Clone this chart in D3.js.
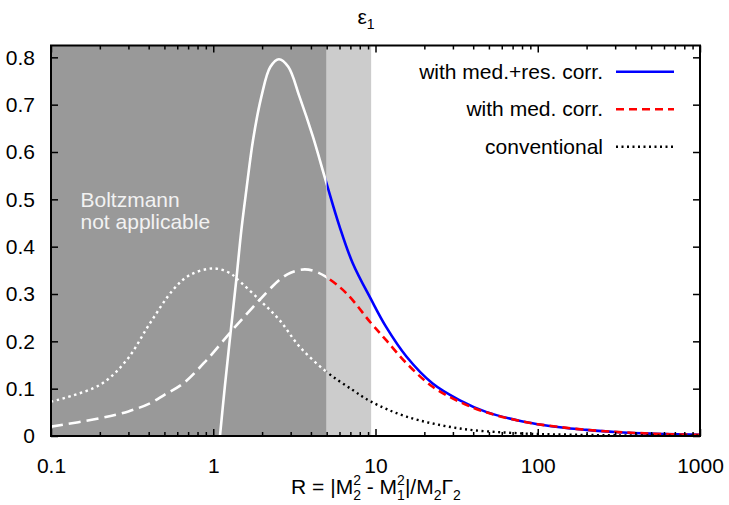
<!DOCTYPE html>
<html lang="en">
<head>
    <meta charset="UTF-8">
    <title>epsilon_1 vs R</title>
    <script src="https://d3js.org/d3.v7.min.js"></script>
    <style>
        body {
            margin: 0;
            background: #fff;
        }
        svg text {
            font-family: "Liberation Sans", Arial, sans-serif;
        }
    </style>
</head>
<body>
    <svg id="chart" width="729" height="505"></svg>
    <script>
        // values
        const medResR = [1.10, 1.18, 1.28, 1.39, 1.49, 1.60, 1.76, 1.98, 2.25, 2.54, 2.90, 3.40, 4.11, 4.97, 6.0, 7.24, 9.41, 11.6, 15.5, 22.5, 32.9, 48, 77, 100, 150, 200, 300, 500, 1000];
        const medResV = [0, 0.106, 0.22, 0.333, 0.435, 0.52, 0.626, 0.717, 0.78, 0.796, 0.78, 0.717, 0.633, 0.536, 0.443, 0.365, 0.288, 0.231, 0.168, 0.111, 0.076, 0.051, 0.032, 0.025, 0.017, 0.013, 0.0085, 0.005, 0.0025];

        const medR = [0.1, 0.2, 0.3, 0.407, 0.5, 0.652, 0.908, 1.26, 1.6, 1.93, 2.56, 3.0, 3.66, 4.3, 4.97, 6.6, 9.41, 11.6, 15.5, 22.5, 32.9, 48, 77, 100, 200, 500, 1000];
        const medV = [0.0197, 0.0374, 0.052, 0.069, 0.087, 0.111, 0.16, 0.217, 0.257, 0.2875, 0.33, 0.345, 0.352, 0.347, 0.336, 0.302, 0.238, 0.203, 0.154, 0.104, 0.0725, 0.050, 0.032, 0.025, 0.013, 0.005, 0.0025];

        const convR = [0.1, 0.2, 0.292, 0.407, 0.566, 0.716, 1.0, 1.27, 1.39, 1.93, 2.56, 3.4, 4.97, 7.24, 9.4, 15.5, 32.9, 77, 150, 300, 1000];
        const convV = [0.0725, 0.108, 0.16, 0.238, 0.309, 0.340, 0.354, 0.344, 0.333, 0.2875, 0.245, 0.189, 0.136, 0.097, 0.0725, 0.041, 0.016, 0.0057, 0.003, 0.0015, 0.0005];

        // R ranges of the grey bands
        const bandFrom = [0.1, 5];
        const bandTo = [5, 9.4];

        const xMajor = [0.1, 1, 10, 100, 1000];
        const xTickLabels = ["0.1", "1", "10", "100", "1000"];
        const yMajor = [0, 0.1, 0.2, 0.3, 0.4, 0.5, 0.6, 0.7, 0.8];
        const yTickLabels = ["0", "0.1", "0.2", "0.3", "0.4", "0.5", "0.6", "0.7", "0.8"];

        const legendLabels = ["with med.+res. corr.", "with med. corr.", "conventional"];

        // layout
        const W = 729, H = 505;
        const margin = {left: 51, right: 29, top: 45.5, bottom: 69};
        const w = W - margin.left - margin.right;
        const h = H - margin.top - margin.bottom;
        const fs = 21;

        const svg = d3.select("#chart");
        const g = svg.append("g").attr("transform", `translate(${margin.left},${margin.top})`);

        const x = d3.scaleLog().domain([0.1, 1000]).range([0, w]);
        const y = d3.scaleLinear().domain([0, 0.825]).range([h, 0]);

        const defs = svg.append("defs");
        defs.append("clipPath").attr("id", "clipAll")
            .append("rect").attr("width", w).attr("height", h);
        defs.append("clipPath").attr("id", "clipWhite")
            .append("rect").attr("width", x(bandTo[0])).attr("height", h);
        defs.append("clipPath").attr("id", "clipColor")
            .append("rect").attr("x", x(bandTo[0])).attr("width", w - x(bandTo[0])).attr("height", h);

        // grey bands
        const bandColors = ["#999999", "#cccccc"];
        g.selectAll("rect.band")
            .data(bandFrom)
            .enter()
            .append("rect")
            .attr("class", "band")
            .attr("x", (d, i) => x(d))
            .attr("width", (d, i) => x(bandTo[i]) - x(d))
            .attr("y", 0)
            .attr("height", h)
            .attr("fill", (d, i) => bandColors[i]);

        g.append("text")
            .attr("x", 29.5).attr("y", 161)
            .attr("fill", "#f2f2f2").attr("font-size", fs)
            .text("Boltzmann");
        g.append("text")
            .attr("x", 29.5).attr("y", 183)
            .attr("fill", "#f2f2f2").attr("font-size", fs)
            .text("not applicable");

        const line = d3.line()
            .x(d => x(d[0]))
            .y(d => y(d[1]))
            .curve(d3.curveCatmullRom.alpha(0.5));

        const series = [
            {r: medResR, v: medResV, color: "#0000ff", dash: null, whiteDash: null, width: 2.6},
            {r: medR, v: medV, color: "#ff0000", dash: "8,5", whiteDash: "12,6", width: 2.6},
            {r: convR, v: convV, color: "#000000", dash: "2,3.5", whiteDash: "2.5,3.5", width: 2.4}
        ];

        const lines = g.append("g").attr("clip-path", "url(#clipAll)");
        series.forEach(s => {
            const pts = s.r.map((r, i) => [r, s.v[i]]);
            lines.append("path")
                .attr("d", line(pts))
                .attr("fill", "none")
                .attr("stroke", "#ffffff")
                .attr("stroke-width", s.width)
                .attr("stroke-dasharray", s.whiteDash)
                .attr("clip-path", "url(#clipWhite)");
            lines.append("path")
                .attr("d", line(pts))
                .attr("fill", "none")
                .attr("stroke", s.color)
                .attr("stroke-width", s.width)
                .attr("stroke-dasharray", s.dash)
                .attr("clip-path", "url(#clipColor)");
        });

        // axes, ticks inward on all four sides
        const xMinor = [];
        xMajor.slice(0, -1).forEach(d => {
            for (let k = 2; k < 10; k++) xMinor.push(d * k);
        });

        function styleAxis(sel) {
            sel.select(".domain").remove();
            sel.selectAll(".tick line").attr("stroke", "#000").attr("stroke-width", 1.5);
            sel.selectAll(".tick text").attr("font-size", fs).attr("fill", "#000")
                .style("font-family", '"Liberation Sans", Arial, sans-serif');
        }

        g.append("g").attr("transform", `translate(0,${h})`)
            .call(d3.axisBottom(x).tickValues(xMajor).tickSize(-7).tickPadding(22)
                .tickFormat((d, i) => xTickLabels[i]))
            .call(styleAxis);
        g.append("g").attr("transform", `translate(0,${h})`)
            .call(d3.axisBottom(x).tickValues(xMinor).tickSize(-4).tickFormat(""))
            .call(styleAxis);
        g.append("g")
            .call(d3.axisTop(x).tickValues(xMajor).tickSize(-7).tickFormat(""))
            .call(styleAxis);
        g.append("g")
            .call(d3.axisTop(x).tickValues(xMinor).tickSize(-4).tickFormat(""))
            .call(styleAxis);
        g.append("g")
            .call(d3.axisLeft(y).tickValues(yMajor).tickSize(-7).tickPadding(16)
                .tickFormat((d, i) => yTickLabels[i]))
            .call(styleAxis);
        g.append("g").attr("transform", `translate(${w},0)`)
            .call(d3.axisRight(y).tickValues(yMajor).tickSize(-7).tickFormat(""))
            .call(styleAxis);

        g.append("rect")
            .attr("width", w).attr("height", h)
            .attr("fill", "none").attr("stroke", "#000").attr("stroke-width", 2);

        // legend
        const legend = g.append("g");
        series.forEach((s, i) => {
            const ly = 26.2 + i * 37.5;
            legend.append("text")
                .attr("x", 552).attr("y", ly + 7)
                .attr("text-anchor", "end").attr("font-size", fs)
                .text(legendLabels[i]);
            legend.append("line")
                .attr("x1", 565).attr("x2", 623)
                .attr("y1", ly).attr("y2", ly)
                .attr("stroke", s.color)
                .attr("stroke-width", s.width)
                .attr("stroke-dasharray", s.dash);
        });

        // title
        const title = svg.append("text")
            .attr("x", 366).attr("y", 24)
            .attr("text-anchor", "middle").attr("font-size", fs);
        title.append("tspan").text("ε");
        title.append("tspan").attr("font-size", 14).attr("dy", 5).text("1");

        // x axis label with stacked super/subscripts
        const xl = svg.append("text")
            .attr("x", 376).attr("y", 494)
            .attr("text-anchor", "middle").attr("font-size", fs);
        const small = 14;
        const supSub = (sup, sub) => {
            xl.append("tspan").attr("font-size", small).attr("dy", -9).text(sup);
            xl.append("tspan").attr("font-size", small).attr("dx", -7.8).attr("dy", 15).text(sub);
        };
        xl.append("tspan").text("R = |M");
        supSub("2", "2");
        xl.append("tspan").attr("dy", -6).text(" - M");
        supSub("2", "1");
        xl.append("tspan").attr("dy", -6).text("|/M");
        xl.append("tspan").attr("font-size", small).attr("dy", 6).text("2");
        xl.append("tspan").attr("dy", -6).text("Γ");
        xl.append("tspan").attr("font-size", small).attr("dy", 6).text("2");
    </script>
</body>
</html>
